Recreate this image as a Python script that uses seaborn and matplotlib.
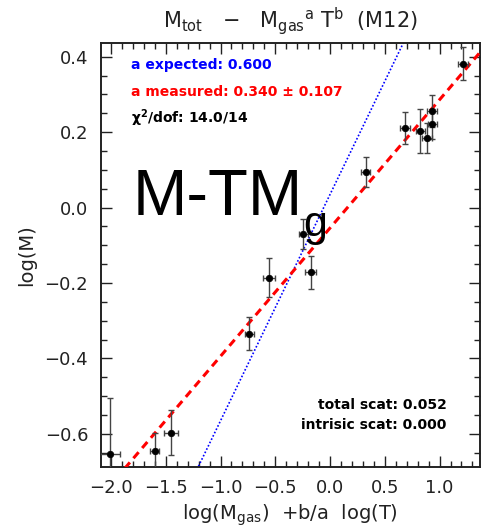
import numpy as np
import pandas as pd
import matplotlib
matplotlib.use("Agg")
import matplotlib.pyplot as plt
import seaborn as sns

# Cluster measurements: combined mass proxy vs. total mass
x_proxy = [-2.007, -1.600, -1.454, -0.738, -0.557, -0.244, -0.177,
           0.326, 0.686, 0.826, 0.884, 0.930, 0.935, 1.213]
log_m = [-0.652, -0.645, -0.597, -0.334, -0.186, -0.070, -0.171,
         0.094, 0.211, 0.203, 0.184, 0.257, 0.222, 0.382]
x_err = [0.09, 0.04, 0.065, 0.04, 0.053, 0.04, 0.053,
         0.04, 0.043, 0.043, 0.043, 0.043, 0.043, 0.046]
y_err = [0.148, 0.048, 0.060, 0.043, 0.052, 0.040, 0.044,
         0.039, 0.043, 0.058, 0.040, 0.042, 0.040, 0.043]

# Fitted and expected relations (slope, intercept)
slope_measured, icpt_measured = 0.340, -0.054
slope_expected, icpt_expected = 0.600, 0.035

x_ticks = [-2.0, -1.5, -1.0, -0.5, 0.0, 0.5, 1.0]
y_ticks = [-0.6, -0.4, -0.2, 0.0, 0.2, 0.4]

df = pd.DataFrame({"x": x_proxy, "y": log_m, "xe": x_err, "ye": y_err})

sns.set_style("ticks")
plt.rcParams["font.family"] = ["DejaVu Sans"]
plt.rcParams["mathtext.default"] = "regular"
plt.rcParams["axes.unicode_minus"] = True

fig = plt.figure(figsize=(4.82, 5.28), dpi=100)
ax = fig.add_axes([0.209, 0.116, 0.787, 0.803])

xlim = (-2.094, 1.37)
ylim = (-0.687, 0.437)

# model lines
xl = np.linspace(xlim[0] - 0.1, xlim[1] + 0.1, 50)
lines = pd.DataFrame({
    "x": np.concatenate([xl, xl]),
    "y": np.concatenate([slope_expected * xl + icpt_expected,
                         slope_measured * xl + icpt_measured]),
    "kind": ["expected"] * len(xl) + ["measured"] * len(xl),
})
sns.lineplot(data=lines[lines.kind == "expected"], x="x", y="y", ax=ax,
             color="blue", lw=1.2, linestyle=(0, (1, 1.2)), zorder=2)
sns.lineplot(data=lines[lines.kind == "measured"], x="x", y="y", ax=ax,
             color="red", lw=2.2, linestyle=(0, (2.6, 1.8)), zorder=3)

ax.errorbar(df.x, df.y, xerr=df.xe, yerr=df.ye, fmt="none",
            ecolor="#444444", elinewidth=1.0, capsize=2.5, capthick=1.0,
            zorder=4)
sns.scatterplot(data=df, x="x", y="y", ax=ax, color="black", s=22,
                edgecolor="black", linewidth=0.5, zorder=5)

ax.set_xlim(*xlim)
ax.set_ylim(*ylim)
ax.set_xticks(x_ticks)
ax.set_yticks(y_ticks)
ax.set_xticklabels([f"{v:.1f}".replace("-", "\u2212") for v in x_ticks])
ax.set_yticklabels([f"{v:.1f}".replace("-", "\u2212") for v in y_ticks])
ax.xaxis.set_minor_locator(matplotlib.ticker.MultipleLocator(0.1))
ax.yaxis.set_minor_locator(matplotlib.ticker.MultipleLocator(0.05))
ax.tick_params(which="both", direction="in", top=True, right=True,
               width=1.0, colors="#222222", labelsize=13, pad=9,
               labelcolor="#222222")
ax.tick_params(which="major", length=8)
ax.tick_params(which="minor", length=4)
for s in ax.spines.values():
    s.set_linewidth(1.4)
    s.set_color("#222222")

ax.set_xlabel(r"log(M$_{gas}$)  +b/a  log(T)", fontsize=14, color="#222222",
              labelpad=4)
ax.set_ylabel("log(M)", fontsize=14, color="#222222", labelpad=6)
ax.set_title(r"M$_{tot}$   $-$   M$_{gas}$$^{a}$ T$^{b}$  (M12)",
             fontsize=15, color="#222222", pad=11)

tkw = dict(transform=ax.transAxes, fontsize=10, fontweight="bold")
ax.text(0.08, 0.948, "a expected: 0.600", color="blue", va="center", **tkw)
ax.text(0.08, 0.885, "a measured: 0.340 \u00b1 0.107", color="red",
        va="center", **tkw)
ax.text(0.08, 0.822, r"$\chi^2$/dof: 14.0/14", color="black", va="center",
        **tkw)
ax.text(0.912, 0.145, "total scat: 0.052", color="black", ha="right",
        va="center", **tkw)
ax.text(0.912, 0.098, "intrisic scat: 0.000", color="black", ha="right",
        va="center", **tkw)

big = ax.text(0.084, 0.594, "M-TM", transform=ax.transAxes, fontsize=47,
              family="Liberation Sans", color="black", va="baseline",
              ha="left", zorder=10)
ax.annotate("g", xy=(1, 0), xycoords=big, xytext=(0, -8),
            textcoords="offset pixels", fontsize=31,
            family="Liberation Sans", color="black", va="baseline",
            ha="left", zorder=10)

fig.savefig("out.png", dpi=100)
